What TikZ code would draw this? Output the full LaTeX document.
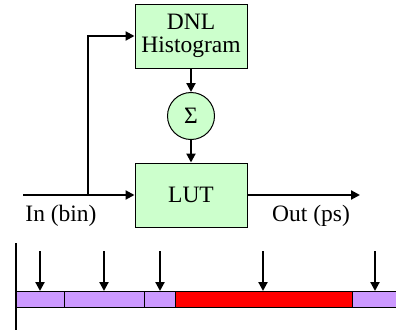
\documentclass[tikz,border=0pt]{standalone}
\usepackage{fontspec}
\setmainfont{Liberation Serif}
\usetikzlibrary{arrows.meta}
\definecolor{boxgreen}{HTML}{CCFFCC}
\definecolor{binpurple}{HTML}{CC99FF}
\definecolor{binred}{HTML}{FF0000}
\begin{document}
\begin{tikzpicture}[x=1pt,y=-1pt,
  font=\fontsize{23.5}{25}\selectfont,
  block/.style={draw=black,line width=1pt,fill=boxgreen,minimum width=112pt,minimum height=64pt,inner sep=0pt,align=center},
  sumnode/.style={draw=black,line width=1pt,fill=boxgreen,circle,minimum size=47pt,inner sep=0pt},
  flow/.style={line width=2.1pt,-{Triangle[length=9pt,width=9pt]}},
  bin/.style={draw=black,line width=1pt},
  hit/.style={line width=2.1pt,-{Triangle[length=9pt,width=9pt]}}]
\useasboundingbox (0,0) rectangle (396,330);

% signal-flow blocks
\node[block] (dnl) at (191,36) {DNL\\[-2pt]Histogram};
\node[sumnode] (sum) at (191,116) {Σ};
\node[block] (lut) at (191,195) {LUT};

\coordinate (in) at (23,195);
\coordinate (split) at (88,195);
\coordinate (out) at (360,195);

\draw[flow] (in) -- (lut.west);
\draw[flow] (split) |- (dnl.west);
\draw[flow] (dnl.south) -- (sum.north);
\draw[flow] (sum.south) -- (lut.north);
\draw[flow] (lut.east) -- (out);

\node (inlabel) at (61,216) {In (bin)};
\node (outlabel) at (311,216) {Out (ps)};

% bin widths along the time axis
\draw[line width=1.5pt] (16,243) -- (16,330);
\draw[bin,fill=binpurple] (16,291) rectangle (64,307);
\draw[bin,fill=binpurple] (64,291) rectangle (144,307);
\draw[bin,fill=binpurple] (144,291) rectangle (175,307);
\draw[bin,fill=binred] (175,291) rectangle (352,307);
\draw[bin,fill=binpurple] (352,291) rectangle (400,307);

\foreach \x in {40,104,160,263,375}
  \draw[hit] (\x,251) -- (\x,291);
\end{tikzpicture}
\end{document}
